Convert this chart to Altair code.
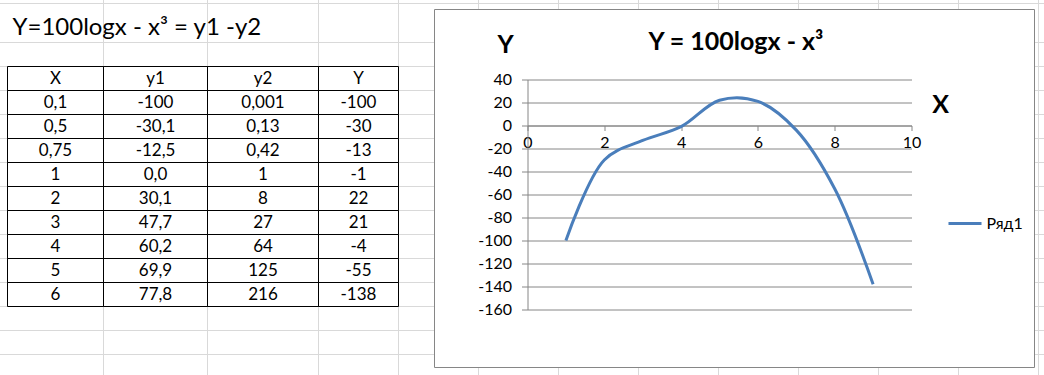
import altair as alt
import pandas as pd

# ---------------- data ----------------
formula_text = "Y=100logx - x³ = y1 -y2"
table_headers = ["X", "y1", "y2", "Y"]
col_X = ["0,1", "0,5", "0,75", "1", "2", "3", "4", "5", "6"]
col_y1 = ["-100", "-30,1", "-12,5", "0,0", "30,1", "47,7", "60,2", "69,9", "77,8"]
col_y2 = ["0,001", "0,13", "0,42", "1", "8", "27", "64", "125", "216"]
col_Y = ["-100", "-30", "-13", "-1", "22", "21", "-4", "-55", "-138"]

chart_title = "Y = 100logx - x³"
series_name = "Ряд1"
point_index = [1, 2, 3, 4, 5, 6, 7, 8, 9]
series_values = [-100, -30, -13, -1, 22, 21, -4, -55, -138]
x_ticks = [0, 2, 4, 6, 8, 10]
y_ticks = [-160, -140, -120, -100, -80, -60, -40, -20, 0, 20, 40]

# ---------------- layout (page pixels) ----------------
W, H = 1044, 375
PADL, PADT = 527.5, 79.5          # plot-area origin
PW, PH = 384, 230                 # plot-area size
PADR, PADB = W - PADL - PW, H - PADT - PH
FRAME = (434.5, 9.5, 1034.5, 367.5)
SHEET_COLS = [103, 207, 318, 398, 478, 558, 638, 718, 798, 878, 958, 1038]
SHEET_ROWS = [3, 42] + [66 + 24 * k for k in range(13)]
TABLE_EDGES = [7, 103, 207, 318, 398]
TABLE_TOP, ROW_H = 66, 24

FONT = "Lato"
GRID = "#868686"
LINE = "#4a7ebb"

pxX = alt.Scale(domain=[0, W], range=[-PADL, W - PADL], nice=False, zero=False)
pxY = alt.Scale(domain=[0, H], range=[-PADT, H - PADT], nice=False, zero=False)

# spreadsheet background grid (kept outside the chart frame)
fx0, fy0, fx1, fy1 = FRAME
segs = []
for x in SHEET_COLS:
    xx = x + 0.5
    if fx0 < xx < fx1:
        segs += [(xx, 0, xx, fy0), (xx, fy1, xx, H)]
    else:
        segs.append((xx, 0, xx, H))
for y in SHEET_ROWS:
    yy = y + 0.5
    if fy0 < yy < fy1:
        segs += [(0, yy, fx0, yy), (fx1, yy, W, yy)]
    else:
        segs.append((0, yy, W, yy))
seg_df = pd.DataFrame(segs, columns=["x", "y", "x2", "y2"])

sheet = alt.Chart(seg_df).mark_rule(color="#d9d9d9", strokeWidth=1).encode(
    x=alt.X("x:Q", scale=pxX, axis=None),
    x2="x2:Q",
    y=alt.Y("y:Q", scale=pxY, axis=None),
    y2="y2:Q",
)

frame = alt.Chart(pd.DataFrame({"a": [0]})).mark_rect(
    filled=False, color=GRID, strokeWidth=1
).encode(
    x=alt.value(fx0 - PADL), x2=alt.value(fx1 - PADL),
    y=alt.value(fy0 - PADT), y2=alt.value(fy1 - PADT),
)

# table cells
columns = [col_X, col_y1, col_y2, col_Y]
rows = []
for c, head in enumerate(table_headers):
    texts = [head] + columns[c]
    for r, t in enumerate(texts):
        x0 = TABLE_EDGES[c] + 0.5
        x1 = TABLE_EDGES[c + 1] + 0.5
        y0 = TABLE_TOP + ROW_H * r + 0.5
        rows.append({"text": t, "x": x0, "x2": x1, "y": y0, "y2": y0 + ROW_H,
                     "xc": (x0 + x1) / 2, "yc": y0 + ROW_H / 2})
cells = pd.DataFrame(rows)

table_rects = alt.Chart(cells).mark_rect(filled=False, color="black", strokeWidth=1).encode(
    x=alt.X("x:Q", scale=pxX, axis=None), x2="x2:Q",
    y=alt.Y("y:Q", scale=pxY, axis=None), y2="y2:Q",
)
table_text = alt.Chart(cells).mark_text(
    font=FONT, fontSize=17, color="black", align="center", baseline="middle"
).encode(
    x=alt.X("xc:Q", scale=pxX, axis=None),
    y=alt.Y("yc:Q", scale=pxY, axis=None),
    text="text:N",
)

formula = alt.Chart(pd.DataFrame({"t": [formula_text]})).mark_text(
    font=FONT, fontSize=24, color="black", align="left", baseline="alphabetic"
).encode(x=alt.value(12.5 - PADL), y=alt.value(35 - PADT), text="t:N")

title = alt.Chart(pd.DataFrame({"t": [chart_title]})).mark_text(
    font=FONT, fontSize=25, fontWeight="bold", color="black", align="center", baseline="alphabetic"
).encode(x=alt.value(736 - PADL), y=alt.value(50 - PADT), text="t:N")

# the plotted series
series = pd.DataFrame({"x": point_index, "Y": series_values, "series": [series_name] * len(point_index)})
zero_px = PH * (40 - 0) / 200.0

line = alt.Chart(series).mark_line(interpolate="catmull-rom", strokeWidth=3).encode(
    x=alt.X("x:Q",
            scale=alt.Scale(domain=[0, 10], nice=False, zero=False),
            axis=alt.Axis(values=x_ticks, grid=False, offset=-(PH - zero_px),
                          domainColor=GRID, tickColor=GRID, tickSize=5,
                          labelFont=FONT, labelFontSize=16, labelColor="black",
                          labelExpr="'' + datum.value",
                          labelPadding=4, labelOverlap=False, labelFlush=False, labelBound=False,
                          title="X", titleX=940 - PADL, titleY=-21, titleAngle=0,
                          titleFont=FONT, titleFontSize=25, titleFontWeight="bold",
                          titleColor="black", titleAlign="center", titleBaseline="middle")),
    y=alt.Y("Y:Q",
            scale=alt.Scale(domain=[-160, 40], nice=False, zero=False),
            axis=alt.Axis(values=y_ticks, grid=True, gridColor=GRID, gridWidth=1,
                          domainColor=GRID, tickColor=GRID, tickSize=6,
                          labelFont=FONT, labelFontSize=16, labelColor="black",
                          labelExpr="'' + datum.value",
                          labelPadding=10, labelOverlap=False, labelFlush=False, labelBound=False,
                          title="Y", titleX=505 - PADL, titleY=44 - PADT, titleAngle=0,
                          titleFont=FONT, titleFontSize=25, titleFontWeight="bold",
                          titleColor="black", titleAlign="center", titleBaseline="middle")),
    color=alt.Color("series:N", scale=alt.Scale(range=[LINE]),
                    legend=alt.Legend(orient="none", legendX=946.5 - PADL, legendY=205 - PADT,
                                      title=None, padding=0, symbolType="stroke",
                                      symbolStrokeWidth=3, symbolSize=1090,
                                      labelFont=FONT, labelFontSize=16, labelColor="black",
                                      labelOffset=3)),
)

chart = alt.layer(sheet, frame, table_rects, table_text, formula, title, line).resolve_scale(
    x="independent", y="independent"
).properties(
    width=PW, height=PH,
    autosize=alt.AutoSizeParams(type="none"),
    padding={"left": PADL, "top": PADT, "right": PADR, "bottom": PADB},
    background="white",
).configure_view(stroke=None)

chart.save("out.html", embed_options={"renderer": "svg", "actions": False})
